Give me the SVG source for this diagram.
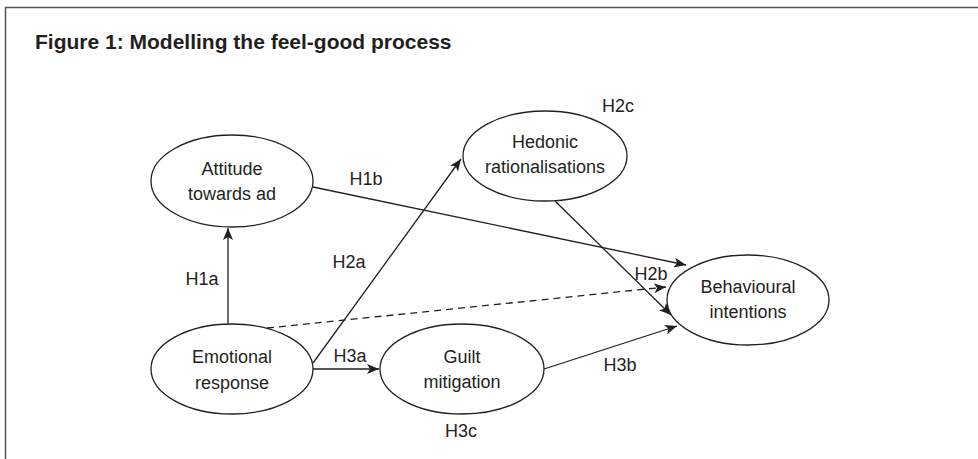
<svg xmlns="http://www.w3.org/2000/svg" width="978" height="459" viewBox="0 0 978 459">
<defs>
<style>
.node ellipse{fill:#fff;stroke:#231f20;stroke-width:1.3}
.node text,.lbl{font-family:"Liberation Sans",Arial,sans-serif;font-size:18px;fill:#231f20;text-anchor:middle}
.edge{stroke:#231f20;stroke-width:1.3;fill:none;marker-end:url(#ah)}
.dash{stroke-dasharray:7,5}
.title{font-family:"Liberation Sans",Arial,sans-serif;font-size:21px;font-weight:bold;fill:#231f20}
</style>
<marker id="ah" viewBox="0 0 12 10" refX="12" refY="5" markerWidth="12" markerHeight="10" markerUnits="userSpaceOnUse" orient="auto">
<path d="M0,0 L12,5 L0,10 L3,5 z" fill="#231f20"/>
</marker>
</defs>
<rect x="0" y="0" width="978" height="459" fill="#fff"/>
<path d="M5.5,459 L5.5,7.5 L978,7.5" fill="none" stroke="#555" stroke-width="1.5"/>
<text class="title" x="35" y="49">Figure 1: Modelling the feel-good process</text>
<g id="connectors">
<path class="edge" d="M228,324 L228,228"/>
<path class="edge" d="M313,187 L686,265"/>
<path class="edge" d="M313,363 L461,159"/>
<path class="edge" d="M555,201 L671,315"/>
<path class="edge dash" d="M267,328 L666,287"/>
<path class="edge" d="M313,369 L379,369"/>
<path class="edge" d="M544,369 L677,326"/>
<text class="lbl" x="202" y="285">H1a</text>
<text class="lbl" x="366" y="185">H1b</text>
<text class="lbl" x="349" y="268">H2a</text>
<text class="lbl" x="651" y="280">H2b</text>
<text class="lbl" x="618" y="112">H2c</text>
<text class="lbl" x="350" y="362">H3a</text>
<text class="lbl" x="620" y="371">H3b</text>
<text class="lbl" x="461" y="437">H3c</text>
</g>
<g id="attitude" class="node">
<ellipse cx="232" cy="181" rx="81" ry="46"/>
<text x="232" y="175">Attitude</text>
<text x="232" y="200">towards ad</text>
</g>
<g id="emotional" class="node">
<ellipse cx="232" cy="369" rx="81" ry="45"/>
<text x="232" y="363">Emotional</text>
<text x="232" y="389">response</text>
</g>
<g id="hedonic" class="node">
<ellipse cx="545" cy="156" rx="82" ry="45"/>
<text x="545" y="148">Hedonic</text>
<text x="545" y="173">rationalisations</text>
</g>
<g id="guilt" class="node">
<ellipse cx="462" cy="369" rx="82" ry="45"/>
<text x="462" y="363">Guilt</text>
<text x="462" y="388">mitigation</text>
</g>
<g id="behavioural" class="node">
<ellipse cx="748" cy="300" rx="81" ry="45"/>
<text x="748" y="293">Behavioural</text>
<text x="748" y="318">intentions</text>
</g>
</svg>
